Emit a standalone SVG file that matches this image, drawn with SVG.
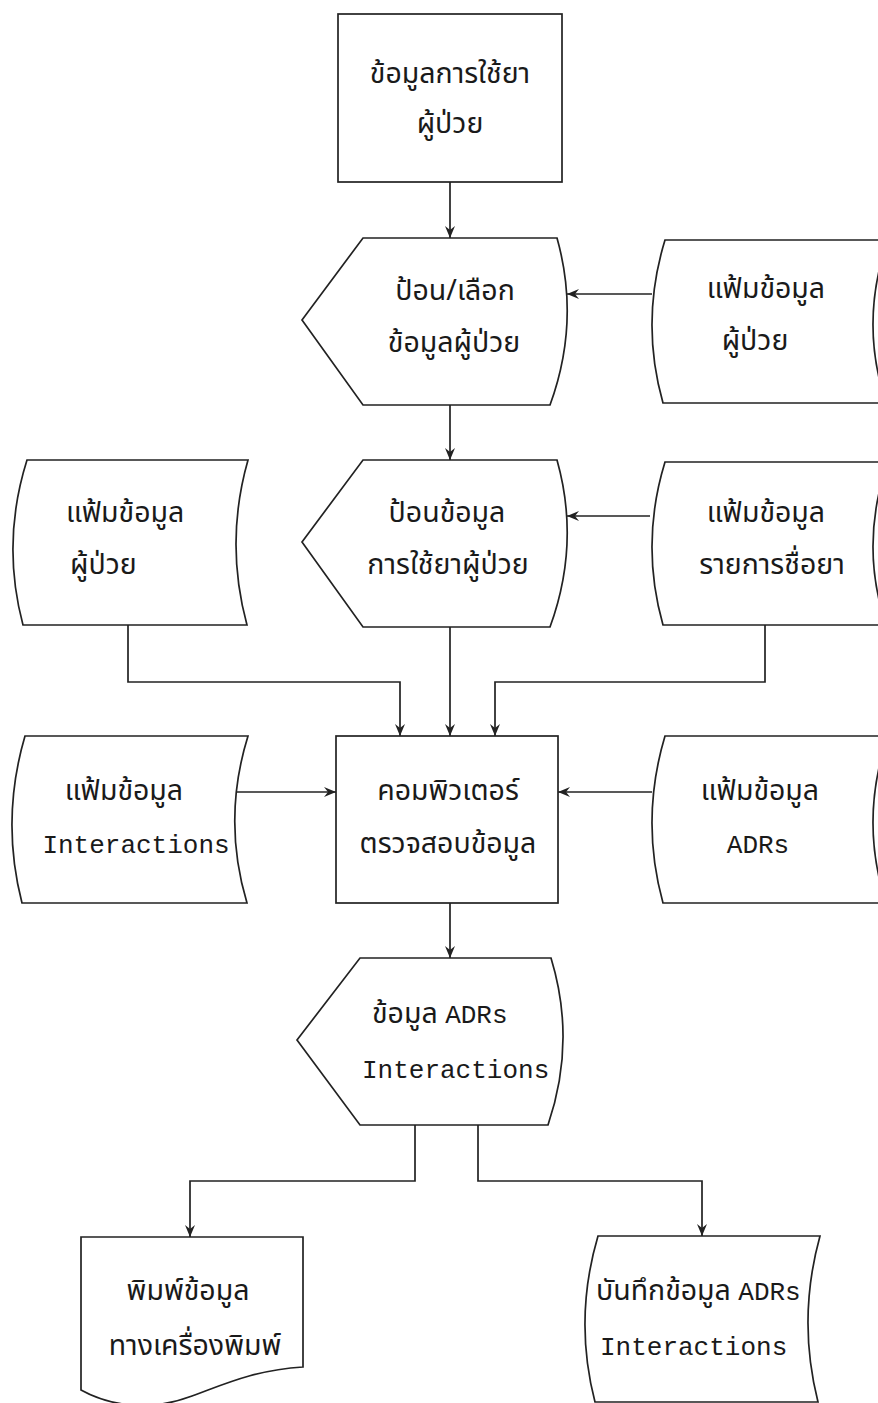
<svg xmlns="http://www.w3.org/2000/svg" width="878" height="1403" viewBox="0 0 878 1403">
<style>
.s{fill:#fff;stroke:#222;stroke-width:1.7}
.c{fill:none;stroke:#222;stroke-width:1.7}
.t{font-family:"Noto Sans Thai","Noto Serif Thai","Loma","Garuda","DejaVu Sans",sans-serif;font-size:28.5px;fill:#1a1a1a}
.m{font-family:"Liberation Mono","DejaVu Sans Mono",monospace;font-size:26px;fill:#1a1a1a}
.mid{text-anchor:middle}
</style>
<defs>
<marker id="ah" markerUnits="userSpaceOnUse" markerWidth="12" markerHeight="10" refX="12" refY="5" orient="auto">
<path d="M0,0 L12,5 L0,10 L4,5 Z" fill="#222"/>
</marker>
</defs>
<rect width="878" height="1403" fill="#fff"/>
<g id="connectors" class="c">
<path d="M450,182 V238" marker-end="url(#ah)"/>
<path d="M450,405 V460" marker-end="url(#ah)"/>
<path d="M652,294 H567" marker-end="url(#ah)"/>
<path d="M650,516 H567" marker-end="url(#ah)"/>
<path d="M128,625 V682 H400 V736" marker-end="url(#ah)"/>
<path d="M450,627 V736" marker-end="url(#ah)"/>
<path d="M765,625 V682 H495 V736" marker-end="url(#ah)"/>
<path d="M235,792 H336" marker-end="url(#ah)"/>
<path d="M652,792 H558" marker-end="url(#ah)"/>
<path d="M450,903 V958" marker-end="url(#ah)"/>
<path d="M415,1125 V1181 H190 V1237" marker-end="url(#ah)"/>
<path d="M478,1125 V1181 H702 V1236" marker-end="url(#ah)"/>
</g>
<g id="n-input">
<rect class="s" x="338" y="14" width="224" height="168"/>
<text class="t mid" x="450" y="83">ข้อมูลการใช้ยา</text>
<text class="t mid" x="450" y="133">ผู้ป่วย</text>
</g>
<g id="n-display1">
<path class="s" d="M363,238 L557,238 Q580.5,321.5 550,405 L363,405 L302,320 Z"/>
<text class="t mid" x="455" y="300">ป้อน/เลือก</text>
<text class="t mid" x="454" y="352">ข้อมูลผู้ป่วย</text>
</g>
<g id="n-file-patient-r">
<path class="s" d="M665,240 L888,240 Q859,321.5 886,403 L663,403 Q640,321.5 665,240 Z"/>
<text class="t mid" x="766" y="298">แฟ้มข้อมูล</text>
<text class="t mid" x="755" y="350">ผู้ป่วย</text>
</g>
<g id="n-display2">
<path class="s" d="M363,460 L557,460 Q580.5,543.5 550,627 L363,627 L302,542 Z"/>
<text class="t mid" x="447" y="522">ป้อนข้อมูล</text>
<text class="t mid" x="448" y="574">การใช้ยาผู้ป่วย</text>
</g>
<g id="n-file-drugs">
<path class="s" d="M665,462 L888,462 Q859,543.5 886,625 L663,625 Q640,543.5 665,462 Z"/>
<text class="t mid" x="766" y="522">แฟ้มข้อมูล</text>
<text class="t mid" x="772" y="574">รายการชื่อยา</text>
</g>
<g id="n-file-patient-l">
<path class="s" d="M27,460 L248,460 Q224.5,542.5 247,625 L23,625 Q1,542.5 27,460 Z"/>
<text class="t" x="66" y="522">แฟ้มข้อมูล</text>
<text class="t" x="70" y="574">ผู้ป่วย</text>
</g>
<g id="n-file-interactions">
<path class="s" d="M25,736 L248,736 Q222,819.5 247,903 L22,903 Q0.5,819.5 25,736 Z"/>
<text class="t mid" x="124" y="800">แฟ้มข้อมูล</text>
<text class="m mid" x="136" y="853">Interactions</text>
</g>
<g id="n-computer">
<rect class="s" x="336" y="736" width="222" height="167"/>
<text class="t mid" x="448" y="800">คอมพิวเตอร์</text>
<text class="t mid" x="448" y="853">ตรวจสอบข้อมูล</text>
</g>
<g id="n-file-adrs">
<path class="s" d="M665,736 L888,736 Q859,819.5 886,903 L663,903 Q640,819.5 665,736 Z"/>
<text class="t mid" x="760" y="800">แฟ้มข้อมูล</text>
<text class="m mid" x="758" y="853">ADRs</text>
</g>
<g id="n-display3">
<path class="s" d="M360,958 L551,958 Q576.5,1041.5 548,1125 L360,1125 L297,1040 Z"/>
<text x="372" y="1023"><tspan class="t">ข้อมูล </tspan><tspan class="m">ADRs</tspan></text>
<text class="m" x="362" y="1078">Interactions</text>
</g>
<g id="n-print">
<path class="s" d="M81,1237 H303 V1367 C255,1370 225,1384 192,1396 C150,1412 110,1406 81,1390 Z"/>
<text class="t mid" x="188" y="1300">พิมพ์ข้อมูล</text>
<text class="t mid" x="195" y="1355">ทางเครื่องพิมพ์</text>
</g>
<g id="n-save">
<path class="s" d="M598,1236 L820,1236 Q797,1319 818,1402 L595,1402 Q573.5,1319 598,1236 Z"/>
<text x="596" y="1300"><tspan class="t">บันทึกข้อมูล </tspan><tspan class="m">ADRs</tspan></text>
<text class="m" x="600" y="1355">Interactions</text>
</g>
</svg>
